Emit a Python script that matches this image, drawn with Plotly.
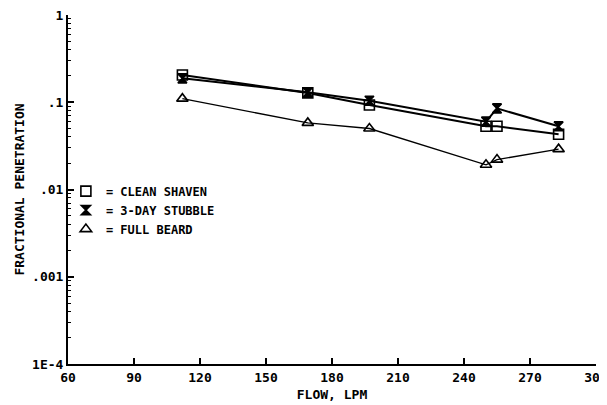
import plotly.graph_objects as go

flow = [112, 169, 197, 250, 255, 283]
clean_shaven = [0.205, 0.128, 0.093, 0.053, 0.053, 0.043]
stubble_3day = [0.188, 0.130, 0.104, 0.060, 0.085, 0.053]
full_beard = [0.110, 0.058, 0.050, 0.0192, 0.0220, 0.0290]

x_ticks = [60, 90, 120, 150, 180, 210, 240, 270, 300]
y_tickvals = [1e-4, 1e-3, 1e-2, 1e-1, 1]
y_ticktext = ["1E-4", ".001", ".01", ".1", "1"]

legend_names = ["= CLEAN SHAVEN", "= 3-DAY STUBBLE", "= FULL BEARD"]

FONT = "DejaVu Sans Mono"
TXT = dict(family=FONT, size=13, color="black", weight="bold")
LEG = dict(family=FONT, size=12, color="black", weight="bold")

fig = go.Figure()

series = [
    (clean_shaven, "square-open", 10, 2.0),
    (stubble_3day, "hourglass", 9, 2.0),
    (full_beard, "triangle-up-open", 10, 1.3),
]

for (vals, sym, sz, lw), name in zip(series, legend_names):
    fig.add_trace(go.Scatter(
        x=flow, y=vals, mode="lines+markers",
        line=dict(color="black", width=lw),
        marker=dict(symbol=sym, size=sz, color="black",
                    line=dict(color="black", width=1.6)),
        showlegend=False,
    ))
    fig.add_trace(go.Scatter(
        x=[None], y=[None], mode="markers", name=name,
        marker=dict(symbol=sym, size=sz, color="black",
                    line=dict(color="black", width=1.6)),
        showlegend=True,
    ))

minor_vals = [k * 10 ** e for e in range(-4, 0) for k in range(2, 10)]

fig.update_layout(
    width=607, height=405,
    paper_bgcolor="white", plot_bgcolor="white",
    margin=dict(l=60, r=19, t=7, b=49),
    font=TXT,
    showlegend=True,
    legend=dict(
        x=-0.004, y=0.537, xanchor="left", yanchor="top",
        bgcolor="rgba(0,0,0,0)", borderwidth=0,
        font=LEG, itemwidth=30, tracegroupgap=0,
    ),
    xaxis=dict(
        range=[60, 300], tickvals=x_ticks,
        ticktext=[str(v) for v in x_ticks],
        ticks="inside", ticklen=6, tickwidth=1.5, tickcolor="black",
        showline=True, linecolor="black", linewidth=2,
        showgrid=False, zeroline=False, automargin=False,
        tickfont=TXT, ticklabeloverflow="allow",
        title=dict(text="FLOW, LPM", standoff=6, font=TXT),
    ),
    yaxis=dict(
        type="log", range=[-4, 0],
        tickvals=y_tickvals, ticktext=y_ticktext,
        ticks="inside", ticklen=6, tickwidth=1.5, tickcolor="black",
        minor=dict(tickvals=minor_vals, ticks="inside", ticklen=3,
                   tickwidth=1, tickcolor="black", showgrid=False),
        showline=True, linecolor="black", linewidth=2,
        showgrid=False, zeroline=False, automargin=False,
        tickfont=TXT, ticklabeloverflow="allow",
        title=dict(text="FRACTIONAL PENETRATION", standoff=5, font=TXT),
    ),
)

fig.write_html("out.html")
